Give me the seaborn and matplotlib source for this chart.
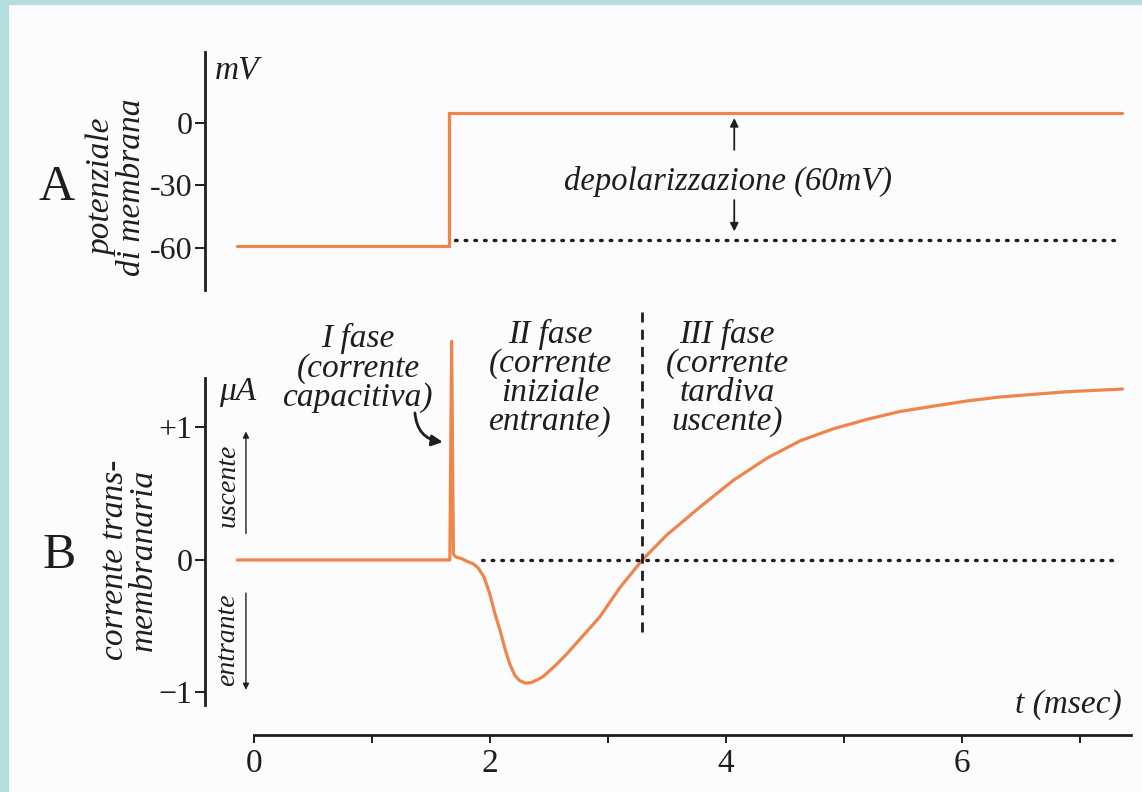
import matplotlib
matplotlib.use("Agg")
import matplotlib.pyplot as plt
from matplotlib.patches import Rectangle
import numpy as np
import pandas as pd
import seaborn as sns

# ---------------- data ----------------
# Panel A: membrane potential (mV) vs time (ms)
time_A = [-0.14, 1.65, 1.65, 7.36]
volt_A = [-59.0, -59.0, 4.5, 4.5]
dotted_A_t = [1.70, 7.30]
dotted_A_v = [-56.0, -56.0]
yticks_A = [0, -30, -60]
yticklabels_A = ["0", "-30", "-60"]

# Panel B: transmembrane current (uA) vs time (ms)
time_B = [-0.14, 1.66, 1.675, 1.69, 1.70, 1.72, 1.76, 1.805, 1.86, 1.90, 1.95,
          2.0, 2.04, 2.085, 2.13, 2.17, 2.21, 2.25, 2.30, 2.35, 2.40, 2.45, 2.55,
          2.65, 2.79, 2.93, 3.10, 3.29, 3.50, 3.78, 4.06, 4.35, 4.63, 4.91, 5.19,
          5.47, 5.75, 6.04, 6.32, 6.60, 6.89, 7.12, 7.36]
curr_B = [0.0, 0.0, 1.65, 0.05, 0.03, 0.02, 0.01, -0.01, -0.03, -0.06, -0.13,
          -0.26, -0.40, -0.53, -0.68, -0.79, -0.87, -0.91, -0.93, -0.925, -0.905, -0.88, -0.80,
          -0.71, -0.57, -0.43, -0.21, 0.0, 0.19, 0.40, 0.60, 0.77, 0.90, 0.99, 1.06,
          1.12, 1.16, 1.20, 1.23, 1.25, 1.27, 1.28, 1.29]
dotted_B_t = [1.93, 7.30]
dotted_B_i = [0.0, 0.0]
phase_split_t = [3.29, 3.29]
phase_split_i = [1.87, -0.57]
yticks_B = [1, 0, -1]
yticklabels_B = ["+1", "0", "\u22121"]
xticks = [0, 1, 2, 3, 4, 5, 6, 7]
xticklabels = ["0", "", "2", "", "4", "", "6", ""]

phase_labels = ["I fase\n(corrente\ncapacitiva)",
                "II fase\n(corrente\niniziale\nentrante)",
                "III fase\n(corrente\ntardiva\nuscente)"]

# ---------------- style ----------------
sns.set_theme(style="white")
plt.rcParams["font.family"] = ["Liberation Serif", "DejaVu Serif"]

W, H = 1142, 792
ORANGE = "#EF854A"
INK = "#1e1e1e"

def fx(x):
    return x / W

def fy(y):
    return 1 - y / H

fig = plt.figure(figsize=(W / 100, H / 100), dpi=100, facecolor="#B4DDE0")
fig.patches.append(Rectangle((fx(9), 0), 1 - fx(9), fy(5), transform=fig.transFigure,
                             facecolor="#FCFBFD", edgecolor="none", zorder=-10))

axA = fig.add_axes([fx(205), fy(290), fx(930), 238 / H])
axB = fig.add_axes([fx(205), fy(735), fx(930), 431 / H])
for ax in (axA, axB):
    ax.set_facecolor("none")
    ax.set_xlim(-0.415, 7.466)

DOTS = (0, (0.5, 2.4))

# ---------------- panel A ----------------
dfA = pd.DataFrame({"t": time_A, "v": volt_A})
sns.lineplot(data=dfA, x="t", y="v", ax=axA, estimator=None, sort=False,
             color=ORANGE, lw=2.3, solid_joinstyle="miter")
axA.plot(dotted_A_t, dotted_A_v, color=INK, lw=2.4, linestyle=DOTS,
         dash_capstyle="round")
axA.set_ylim(-80.0, 33.8)
axA.set_yticks(yticks_A, yticklabels_A)
axA.set_xticks([])
axA.set_xlabel("")
axA.set_ylabel("")
for s in ("top", "right", "bottom"):
    axA.spines[s].set_visible(False)
axA.spines["left"].set_linewidth(2.0)
axA.spines["left"].set_color(INK)
axA.tick_params(axis="y", direction="out", length=7, width=1.4, color=INK,
                labelsize=23, labelcolor=INK, pad=2, left=True)

arrow_t = 4.07
axA.annotate("", xy=(arrow_t, 2.2), xytext=(arrow_t, -13),
             arrowprops=dict(arrowstyle="-|>", lw=1.3, color=INK, mutation_scale=12,
                             shrinkA=0, shrinkB=0))
axA.annotate("", xy=(arrow_t, -52), xytext=(arrow_t, -37),
             arrowprops=dict(arrowstyle="-|>", lw=1.3, color=INK, mutation_scale=12,
                             shrinkA=0, shrinkB=0))

# ---------------- panel B ----------------
dfB = pd.DataFrame({"t": time_B, "i": curr_B})
sns.lineplot(data=dfB, x="t", y="i", ax=axB, estimator=None, sort=False,
             color=ORANGE, lw=2.3)
axB.plot(dotted_B_t, dotted_B_i, color=INK, lw=2.4, linestyle=DOTS,
         dash_capstyle="round")
axB.plot(phase_split_t, phase_split_i, color=INK, lw=2.0, linestyle=(0, (3.6, 2.6)))
axB.set_ylim(-1.321, 1.932)
axB.set_yticks(yticks_B, yticklabels_B)
axB.set_xticks(xticks, xticklabels)
axB.set_xlabel("")
axB.set_ylabel("")
for s in ("top", "right"):
    axB.spines[s].set_visible(False)
axB.spines["left"].set_bounds(-1.094, 1.374)
axB.spines["bottom"].set_bounds(0, 7.43)
for s in ("left", "bottom"):
    axB.spines[s].set_linewidth(2.0)
    axB.spines[s].set_color(INK)
axB.tick_params(axis="y", direction="out", length=7, width=1.4, color=INK,
                labelsize=23, labelcolor=INK, pad=2, left=True)
axB.tick_params(axis="x", direction="out", length=6, width=1.4, color=INK,
                labelsize=24, labelcolor=INK, pad=4, bottom=True)

# direction arrows next to the B axis
axB.annotate("", xy=(-0.068, 0.97), xytext=(-0.068, 0.20),
             arrowprops=dict(arrowstyle="-|>", lw=1.0, color=INK, mutation_scale=9,
                             shrinkA=0, shrinkB=0))
axB.annotate("", xy=(-0.068, -0.98), xytext=(-0.068, -0.25),
             arrowprops=dict(arrowstyle="-|>", lw=1.0, color=INK, mutation_scale=9,
                             shrinkA=0, shrinkB=0))
# curved arrow to the capacitive spike
axB.annotate("", xy=(1.60, 0.89), xytext=(1.364, 1.11),
             arrowprops=dict(arrowstyle="-|>", lw=2.0, color=INK, mutation_scale=16,
                             connectionstyle="arc3,rad=0.4", shrinkA=0, shrinkB=0))

# ---------------- texts ----------------
it = dict(style="italic", color=INK)
fig.text(fx(57), fy(188), "A", fontsize=36, ha="center", va="center", color=INK)
fig.text(fx(59), fy(556), "B", fontsize=36, ha="center", va="center", color=INK)
fig.text(fx(117), fy(187), "potenziale\ndi membrana", rotation=90, fontsize=24,
         ha="center", va="center", multialignment="center", linespacing=0.95, **it)
fig.text(fx(129), fy(560), "corrente trans-\nmembranaria", rotation=90, fontsize=24,
         ha="center", va="center", multialignment="center", linespacing=0.95, **it)
fig.text(fx(237), fy(70), "mV", fontsize=24, ha="center", va="center", **it)
fig.text(fx(238), fy(392), "\u03bcA", fontsize=24, ha="center", va="center", **it)
fig.text(fx(228), fy(485), "uscente", rotation=90, fontsize=20, ha="center",
         va="center", **it)
fig.text(fx(228), fy(640), "entrante", rotation=90, fontsize=20, ha="center",
         va="center", **it)
fig.text(fx(728), fy(181), "depolarizzazione (60mV)", fontsize=23.5, ha="center",
         va="center", **it)
fig.text(fx(1122), fy(705), "t (msec)", fontsize=24, ha="right", va="center", **it)

phase_pos = [(358, 368), (550, 378), (727, 378)]
for (px, py), lab in zip(phase_pos, phase_labels):
    fig.text(fx(px), fy(py), lab, fontsize=24, ha="center", va="center",
             multialignment="center", linespacing=0.94, **it)

fig.savefig("out.png", dpi=100, facecolor=fig.get_facecolor())
